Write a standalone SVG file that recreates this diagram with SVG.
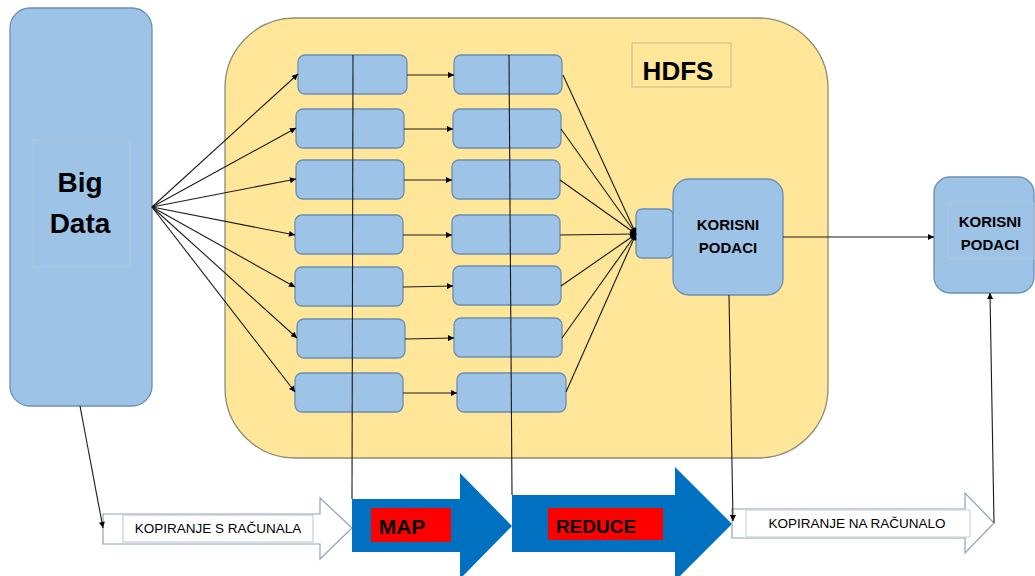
<svg xmlns="http://www.w3.org/2000/svg" width="1035" height="576" viewBox="0 0 1035 576">
<defs>
<marker id="ah" viewBox="0 0 10 10" refX="10" refY="5" markerWidth="8" markerHeight="6" markerUnits="userSpaceOnUse" orient="auto"><path d="M0,0 L10,5 L0,10 z" fill="#000"/></marker>
<style>
.blue{fill:#9DC3E6;stroke:#6C8EB5;stroke-width:1.3}
.yel{fill:#FFE699;stroke:#8C8C78;stroke-width:1.3}
.ln{stroke:#1a1a1a;stroke-width:1.1;fill:none}
.arr{stroke:#1a1a1a;stroke-width:1.1;fill:none;marker-end:url(#ah)}
.tb{font-family:"Liberation Sans",Arial,sans-serif;font-weight:bold;fill:#000;text-anchor:middle}
.tr{font-family:"Liberation Sans",Arial,sans-serif;fill:#000;text-anchor:middle}
.faint{fill:none;stroke:#B4C8DA;stroke-width:1}
.big{fill:#0070C0}
.red{fill:#FF0000}
.white{fill:#fff;stroke:#8FA3B8;stroke-width:1.2}
</style>
</defs>

<g id="hdfs">
<rect class="yel" x="225" y="18" width="603" height="440" rx="70"/>
<rect x="632" y="43" width="99" height="44" fill="none" stroke="#C8B890" stroke-width="1"/>
<text class="tb" x="678" y="80" font-size="26">HDFS</text>
</g>

<g id="bigdata">
<rect class="blue" x="10" y="8" width="142" height="398" rx="20"/>
<rect class="faint" x="33" y="140" width="97" height="127"/>
<text class="tb" x="80" y="192" font-size="28">Big</text>
<text class="tb" x="80" y="233" font-size="28">Data</text>
</g>

<g id="map-nodes">
<rect class="blue" x="298" y="55" width="109" height="39" rx="7"/>
<rect class="blue" x="296" y="109" width="108" height="39" rx="7"/>
<rect class="blue" x="296" y="160" width="108" height="39" rx="7"/>
<rect class="blue" x="295" y="215" width="108" height="39" rx="7"/>
<rect class="blue" x="295" y="267" width="108" height="39" rx="7"/>
<rect class="blue" x="297" y="319" width="108" height="39" rx="7"/>
<rect class="blue" x="295" y="373" width="108" height="39" rx="7"/>
</g>

<g id="reduce-nodes">
<rect class="blue" x="454" y="55" width="108" height="39" rx="7"/>
<rect class="blue" x="453" y="109" width="108" height="39" rx="7"/>
<rect class="blue" x="452" y="160" width="108" height="39" rx="7"/>
<rect class="blue" x="452" y="215" width="108" height="39" rx="7"/>
<rect class="blue" x="453" y="266" width="108" height="39" rx="7"/>
<rect class="blue" x="454" y="318" width="108" height="39" rx="7"/>
<rect class="blue" x="457" y="373" width="109" height="39" rx="7"/>
</g>

<g id="small-node">
<rect class="blue" x="636" y="209" width="37" height="49" rx="6"/>
</g>

<g id="korisni1">
<rect class="blue" x="673" y="179" width="110" height="116" rx="16"/>
<text class="tb" x="728" y="230" font-size="15">KORISNI</text>
<text class="tb" x="728" y="253" font-size="15">PODACI</text>
</g>

<g id="korisni2">
<rect class="blue" x="934" y="177" width="100" height="116" rx="16"/>
<rect class="faint" x="948" y="203" width="86" height="56"/>
<text class="tb" x="990" y="227" font-size="15">KORISNI</text>
<text class="tb" x="990" y="250" font-size="15">PODACI</text>
</g>

<g id="copy-from">
<path class="white" d="M103,514 L320,514 L320,498 L352,528 L320,559 L320,544 L103,544 z"/>
<rect x="123" y="515" width="190" height="27" fill="#fff" stroke="#B8C4D0" stroke-width="1"/>
<text class="tr" x="218" y="533" font-size="13.5">KOPIRANJE S RAČUNALA</text>
</g>

<g id="map-arrow">
<path class="big" d="M352,499 L460,499 L460,473 L512,526 L460,579 L460,552 L352,552 z"/>
<rect class="red" x="371" y="508" width="80" height="34"/>
<text class="tb" x="402" y="534" font-size="21">MAP</text>
</g>

<g id="reduce-arrow">
<path class="big" d="M512,495 L675,495 L675,467 L732,524 L675,581 L675,552 L512,552 z"/>
<rect class="red" x="548" y="508" width="115" height="32"/>
<text class="tb" x="596" y="533" font-size="19">REDUCE</text>
</g>

<g id="copy-to">
<path class="white" d="M732,509 L965,509 L965,493 L994,523 L965,553 L965,538 L732,538 z"/>
<rect x="746" y="510" width="224" height="27" fill="#fff" stroke="#C8D0D8" stroke-width="1"/>
<text class="tr" x="857" y="528" font-size="13.5">KOPIRANJE NA RAČUNALO</text>
</g>

<g id="connectors">
<path class="arr" d="M152,207 L298,74"/>
<path class="arr" d="M152,207 L296,128"/>
<path class="arr" d="M152,207 L296,179"/>
<path class="arr" d="M152,207 L295,235"/>
<path class="arr" d="M152,207 L295,287"/>
<path class="arr" d="M152,207 L297,338"/>
<path class="arr" d="M152,207 L295,392"/>

<path class="arr" d="M407,75 L454,75"/>
<path class="arr" d="M404,129 L453,129"/>
<path class="arr" d="M404,180 L452,180"/>
<path class="arr" d="M403,235 L452,235"/>
<path class="arr" d="M403,287 L453,286"/>
<path class="arr" d="M405,339 L454,338"/>
<path class="arr" d="M403,393 L457,393"/>

<path class="arr" d="M563,75 L636,234"/>
<path class="arr" d="M561,129 L636,234"/>
<path class="arr" d="M560,180 L636,234"/>
<path class="arr" d="M560,235 L636,234"/>
<path class="arr" d="M561,286 L636,234"/>
<path class="arr" d="M562,338 L636,234"/>
<path class="arr" d="M566,392 L636,234"/>

<path class="ln" d="M353,55 L352,499"/>
<path class="ln" d="M509,55 L512,495"/>

<path class="arr" d="M783,237 L934,237"/>
<path class="arr" d="M80,406 L103,528"/>
<path class="arr" d="M729,295 L733,521"/>
<path class="arr" d="M994,523 L990,293"/>
</g>
</svg>
